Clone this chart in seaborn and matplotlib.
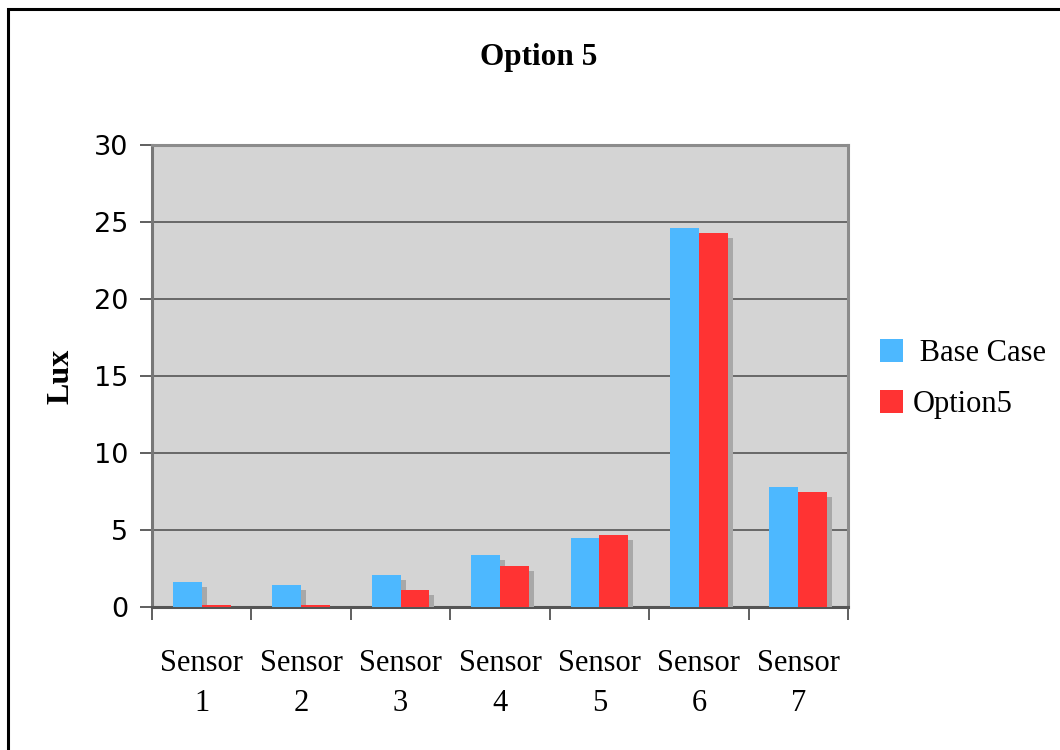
import numpy as np
import pandas as pd
import matplotlib
matplotlib.use("Agg")
import matplotlib.pyplot as plt
import matplotlib.patheffects as pe
from matplotlib.patches import Rectangle
import seaborn as sns

# Illuminance readings per sensor
sensors = ["Sensor\n1", "Sensor\n2", "Sensor\n3", "Sensor\n4", "Sensor\n5", "Sensor\n6", "Sensor\n7"]
base_case = [1.6, 1.4, 2.1, 3.4, 4.5, 24.6, 7.8]
option5 = [0.1, 0.1, 1.1, 2.65, 4.7, 24.3, 7.5]
series_names = [" Base Case", "Option5"]
y_ticks = [0, 5, 10, 15, 20, 25, 30]

df = pd.DataFrame({
    "sensor": sensors * 2,
    "lux": base_case + option5,
    "series": [series_names[0]] * len(sensors) + [series_names[1]] * len(sensors),
})

sns.set_theme(style="white")
plt.rcParams.update({"text.color": "black", "axes.labelcolor": "black",
                     "xtick.labelcolor": "black", "ytick.labelcolor": "black"})
serif = ["Liberation Serif", "DejaVu Serif"]

fig = plt.figure(figsize=(10.6, 7.5), dpi=100)
ax = fig.add_axes([152 / 1060, 1 - 607 / 750, 696 / 1060, 462 / 750])
ax.set_facecolor("#d4d4d4")

palette = {series_names[0]: "#4db8ff", series_names[1]: "#ff3333"}
sns.barplot(data=df, x="sensor", y="lux", hue="series", palette=palette,
            width=0.58, gap=0, saturation=1, ax=ax, zorder=3, legend=True)

# drop shadow behind each bar
shadow = [pe.SimplePatchShadow(offset=(3.6, -3.6), shadow_rgbFace="#a8a8a8", alpha=1.0), pe.Normal()]
for p in ax.patches:
    p.set_path_effects(shadow)
    p.set_edgecolor("none")

ax.set_ylim(0, 30)
ax.set_xlim(-0.5, len(sensors) - 0.5)
ax.set_yticks(y_ticks)
ax.set_yticklabels([str(v) for v in y_ticks], fontsize=19.5, family="DejaVu Sans", color="black")
ax.yaxis.grid(True, color="#555555", linewidth=1.2, zorder=1)
ax.set_axisbelow(True)

# category labels at bar centers, tick marks on category boundaries
ax.set_xticks(range(len(sensors)))
ax.set_xticklabels(sensors, fontsize=22, family=serif, linespacing=1.5, color="black")
ax.tick_params(axis="x", which="major", length=0, pad=30)
ax.set_xticks(np.arange(-0.5, len(sensors), 1.0), minor=True)
ax.tick_params(axis="x", which="minor", length=9, width=1.2, color="#444444", direction="out", bottom=True)
ax.tick_params(axis="y", length=9, width=1.2, color="#444444", direction="out", left=True, pad=8)

for side, col in [("left", "#777777"), ("bottom", "#555555"), ("top", "#8c8c8c"), ("right", "#8c8c8c")]:
    ax.spines[side].set_visible(True)
    ax.spines[side].set_color(col)
    ax.spines[side].set_linewidth(2.2)

ax.set_xlabel("")
ax.set_ylabel("Lux", fontsize=23, fontweight="bold", family=serif, labelpad=13, color="black")
fig.text(0.508, 1 - 57 / 750, "Option 5", ha="center", va="center",
         fontsize=22.5, fontweight="bold", family=serif, color="black")

handles, labels = ax.get_legend_handles_labels()
leg = ax.legend(handles, labels, loc="center left", bbox_to_anchor=(1.046, 0.493),
                frameon=False, prop={"family": serif, "size": 22},
                borderaxespad=0, borderpad=0,
                handlelength=0.76, handleheight=0.76, handletextpad=0.3, labelspacing=0.72)
for h in leg.get_patches():
    h.set_path_effects([])
for t in leg.get_texts():
    t.set_color("black")

# outer frame
fig.patches.append(Rectangle((7.5 / 1060, -0.1), 1.2, (741.5 / 750) + 0.1,
                             transform=fig.transFigure, fill=False,
                             edgecolor="black", linewidth=2.2))

fig.savefig("out.png", dpi=100, facecolor="white")
